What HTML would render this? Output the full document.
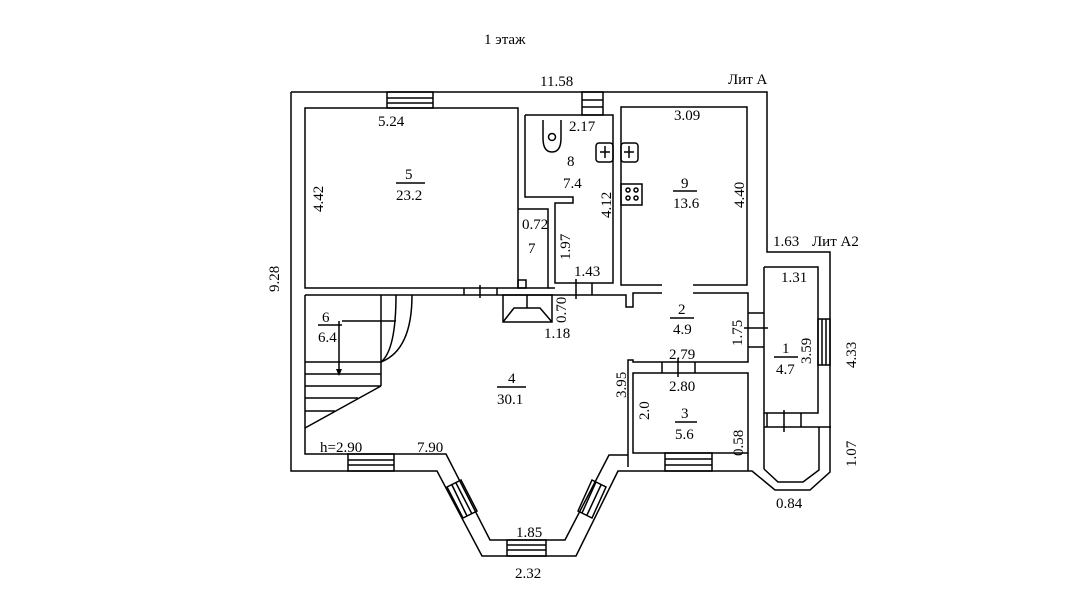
<!DOCTYPE html>
<html><head><meta charset="utf-8"><style>
html,body{margin:0;padding:0;background:#fff;}
svg{display:block;}
text{font-family:"Liberation Serif",serif;font-size:15px;fill:#000;}
</style></head><body>
<svg width="1080" height="608" viewBox="0 0 1080 608" xmlns="http://www.w3.org/2000/svg">
<g fill="none" stroke="#000" stroke-width="1.5">
<polyline points="291,92 767,92 767,252 830,252 830,472 810,490 775,490 752,471 618,471 576,556 482,556 437,471 291,471 291,92"/>
<rect x="305" y="108" width="213" height="180"/>
<polyline points="518,209 548,209 548,288 518,288"/>
<rect x="518" y="280" width="8" height="8"/>
<polyline points="525,115 613,115 613,283 555,283 555,203 573,203 573,197 525,197 525,115"/>
<polyline points="662,285 621,285 621,107 747,107 747,285 693,285"/>
<polyline points="305,295 626,295 626,307 633,307 633,293 662,293"/>
<line x1="548" y1="288" x2="555" y2="288"/>
<polyline points="693,293 748,293 748,362 633,362 633,360 628,360 628,467"/>
<polyline points="305,295 305,454 446,454 490,540 565,540 609,455 628,455"/>
<rect x="633" y="373" width="115" height="80"/>
<line x1="662" y1="362" x2="662" y2="373"/><line x1="695" y1="362" x2="695" y2="373"/><line x1="678" y1="358" x2="678" y2="377"/>
<polyline points="764,267 818,267 818,413 764,413 764,267"/>
<line x1="748" y1="313" x2="764" y2="313"/><line x1="748" y1="347" x2="764" y2="347"/><line x1="744" y1="328" x2="768" y2="328"/>
<line x1="764" y1="413" x2="764" y2="469"/>
<line x1="764" y1="427" x2="831" y2="427"/>
<polyline points="764,469 778,482 803,482 819,470 819,427"/>
<line x1="767" y1="413" x2="767" y2="427"/><line x1="801" y1="413" x2="801" y2="427"/><line x1="784" y1="410" x2="784" y2="432"/>
<line x1="748" y1="453" x2="748" y2="471"/>
<line x1="592" y1="283" x2="592" y2="295"/><line x1="576" y1="279" x2="576" y2="299"/>
<line x1="464" y1="288" x2="464" y2="295"/><line x1="497" y1="288" x2="497" y2="295"/><line x1="480" y1="285" x2="480" y2="298"/>
<rect x="503" y="295" width="49" height="27"/>
<polyline points="503,322 514,308 540,308 552,322"/>
<line x1="527" y1="295" x2="527" y2="308"/>
<line x1="381" y1="295" x2="381" y2="386"/>
<line x1="305" y1="362" x2="381" y2="362"/>
<line x1="305" y1="374" x2="381" y2="374"/>
<line x1="305" y1="386" x2="381" y2="386"/>
<line x1="305" y1="398" x2="358" y2="398"/>
<line x1="305" y1="411" x2="335" y2="411"/>
<line x1="305" y1="428" x2="381" y2="386"/>
<path d="M396,295 Q396,350 381,362"/>
<path d="M412,295 Q412,350 381,362"/>
<polyline points="342,321 396,321"/>
<line x1="339" y1="321" x2="339" y2="370"/>
<rect x="387" y="92" width="46" height="16"/>
<line x1="387" y1="98" x2="433" y2="98"/><line x1="387" y1="103" x2="433" y2="103"/>
<rect x="582" y="92" width="21" height="23"/>
<line x1="582" y1="100" x2="603" y2="100"/><line x1="582" y1="107" x2="603" y2="107"/>
<rect x="348" y="454" width="46" height="17"/>
<line x1="348" y1="460" x2="394" y2="460"/><line x1="348" y1="465" x2="394" y2="465"/>
<rect x="507" y="540" width="39" height="16"/>
<line x1="507" y1="545" x2="546" y2="545"/><line x1="507" y1="550" x2="546" y2="550"/>
<rect x="665" y="453" width="47" height="18"/>
<line x1="665" y1="459" x2="712" y2="459"/><line x1="665" y1="465" x2="712" y2="465"/>
<rect x="818" y="319" width="12" height="46"/>
<line x1="822" y1="319" x2="822" y2="365"/><line x1="826" y1="319" x2="826" y2="365"/>
<polygon points="447,487 461,480 477,511 463,518"/>
<line x1="452" y1="485" x2="467" y2="516"/><line x1="456" y1="483" x2="472" y2="514"/>
<polygon points="592,480 606,487 592,518 578,511"/>
<line x1="596" y1="482" x2="582" y2="513"/><line x1="601" y1="485" x2="587" y2="515"/>
<path d="M543,120 L543,138 Q543,152 552,152 Q561,152 561,138 L561,120"/>
<circle cx="552" cy="137" r="3.5"/>
<rect x="596" y="143" width="17" height="19" rx="3"/>
<line x1="600" y1="152" x2="610" y2="152"/><line x1="605" y1="146" x2="605" y2="158"/>
<rect x="621" y="143" width="17" height="19" rx="3"/>
<line x1="624" y1="152" x2="634" y2="152"/><line x1="629" y1="146" x2="629" y2="158"/>
<rect x="621" y="184" width="21" height="21"/>
<circle cx="628" cy="190" r="2"/><circle cx="636" cy="190" r="2"/><circle cx="628" cy="198" r="2"/><circle cx="636" cy="198" r="2"/>
<line x1="396" y1="183" x2="425" y2="183"/>
<line x1="673" y1="191" x2="697" y2="191"/>
<line x1="318" y1="325" x2="342" y2="325"/>
<line x1="497" y1="387" x2="526" y2="387"/>
<line x1="670" y1="318" x2="694" y2="318"/>
<line x1="675" y1="422" x2="697" y2="422"/>
<line x1="774" y1="357" x2="798" y2="357"/>
</g>
<polygon points="339,376 336,369 342,369" fill="#000"/>
<text x="484" y="44">1 этаж</text>
<text x="540" y="86">11.58</text>
<text x="728" y="84">Лит А</text>
<text x="378" y="126">5.24</text>
<text x="569" y="131">2.17</text>
<text x="674" y="120">3.09</text>
<text x="405" y="179">5</text>
<text x="396" y="200">23.2</text>
<text x="567" y="166">8</text>
<text x="563" y="188">7.4</text>
<text x="681" y="188">9</text>
<text x="673" y="208">13.6</text>
<text x="522" y="229">0.72</text>
<text x="528" y="253">7</text>
<text x="574" y="276">1.43</text>
<text x="773" y="246">1.63</text>
<text x="812" y="246">Лит А2</text>
<text x="781" y="282">1.31</text>
<text x="322" y="322">6</text>
<text x="318" y="342">6.4</text>
<text x="544" y="338">1.18</text>
<text x="678" y="314">2</text>
<text x="673" y="334">4.9</text>
<text x="669" y="359">2.79</text>
<text x="669" y="391">2.80</text>
<text x="508" y="383">4</text>
<text x="497" y="404">30.1</text>
<text x="681" y="418">3</text>
<text x="675" y="439">5.6</text>
<text x="782" y="353">1</text>
<text x="776" y="374">4.7</text>
<text x="320" y="452">h=2.90</text>
<text x="417" y="452">7.90</text>
<text x="516" y="537">1.85</text>
<text x="515" y="578">2.32</text>
<text x="776" y="508">0.84</text>
<g>
<text transform="translate(323,212) rotate(-90)">4.42</text>
<text transform="translate(279,292) rotate(-90)">9.28</text>
<text transform="translate(611,218) rotate(-90)">4.12</text>
<text transform="translate(744,208) rotate(-90)">4.40</text>
<text transform="translate(570,260) rotate(-90)">1.97</text>
<text transform="translate(566,323) rotate(-90)">0.70</text>
<text transform="translate(742,346) rotate(-90)">1.75</text>
<text transform="translate(811,364) rotate(-90)">3.59</text>
<text transform="translate(856,368) rotate(-90)">4.33</text>
<text transform="translate(626,398) rotate(-90)">3.95</text>
<text transform="translate(649,420) rotate(-90)">2.0</text>
<text transform="translate(743,456) rotate(-90)">0.58</text>
<text transform="translate(856,467) rotate(-90)">1.07</text>
</g>
</svg>
</body></html>
